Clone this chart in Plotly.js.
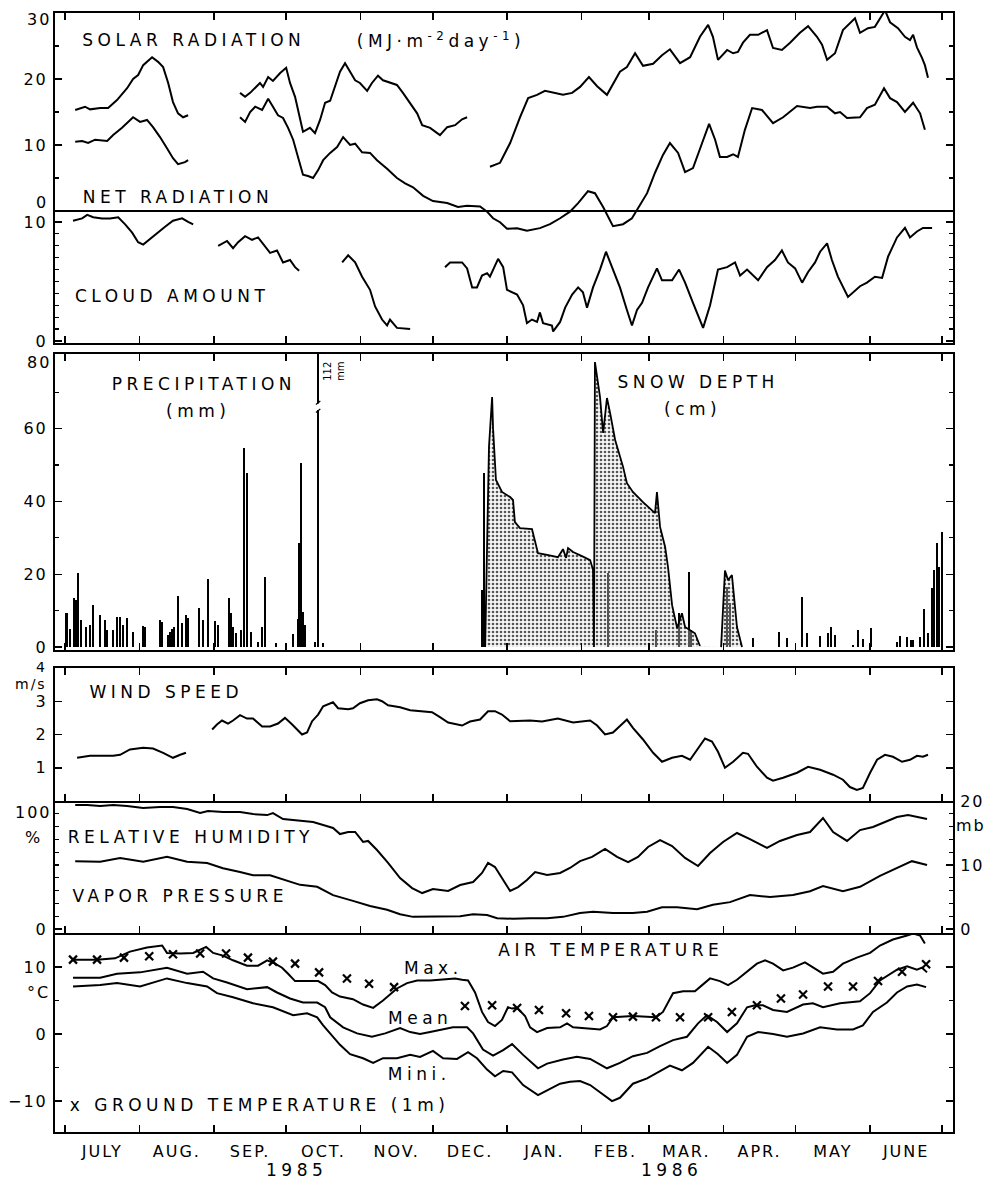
<!DOCTYPE html>
<html><head><meta charset="utf-8">
<script src="https://cdn.plot.ly/plotly-3.0.1.min.js"></script>
<style>
html,body{margin:0;padding:0;background:#fff;}
#chart{width:988px;height:1181px;}
.main-svg g[class*="tick"] text{letter-spacing:2px;}
.main-svg .annotation-text{letter-spacing:4.5px;}
</style></head><body><div id="chart"></div>
<script>
// ---------- DATA (x = days since 1 July 1985) ----------
const monthStarts = [0,31,62,92,123,153,184,215,243,274,304,335,365];
const monthNames = ['JULY','AUG.','SEP.','OCT.','NOV.','DEC.','JAN.','FEB.','MAR.','APR.','MAY','JUNE'];

const solarRadiation = [
[4.2,15.3],[8.3,15.8],[10.4,15.4],[14.6,15.6],[17.9,15.6],[21.6,16.8],[25.8,18.6],[28.3,20],[30.4,20.6],[32.5,22.1],[36.2,23.3],[38.7,22.6],[40.8,21.8],[42.9,19.4],[44.9,16.5],[47.0,14.8],[49.1,14.2],[51.2,14.5],
null,
[72.8,17.9],[74.9,17.3],[77.0,17.9],[79.1,18.6],[81.1,19.4],[82.4,18.8],[84.5,20.3],[86.5,19.7],[89.5,20.9],[92.0,21.7],[93.6,19.4],[95.7,17.3],[97.0,15.3],[99.0,12],[101.9,12.6],[104.0,11.8],[106.1,13.8],[108.2,16.4],[110.3,16.7],[112.3,18.8],[114.4,21.1],[116.5,22.4],[118.6,21.1],[120.7,19.8],[122.7,19.4],[125.7,18.2],[127.7,19.4],[130.2,20.5],[132.3,19.8],[135.2,19.4],[138.1,19.1],[140.6,17.9],[143.6,16.4],[146.5,14.8],[148.6,13],[151.9,12.6],[156.0,11.5],[159.0,12.7],[162.3,13],[165.2,13.9],[167.3,14.2],
null,
[176.8,6.7],[181.0,7.3],[185.2,10.3],[189.3,14.2],[192.7,17.1],[196.4,17.6],[199.7,18.2],[203.1,17.9],[207.2,17.6],[211.0,17.9],[214.3,18.8],[218.0,20.3],[221.4,18.9],[225.5,17.6],[228.9,19.8],[230.9,21.1],[233.8,21.8],[237.2,23.9],[240.5,22],[244.7,22.3],[248.4,23.6],[251.7,24.5],[255.9,22.4],[260.1,23.3],[264.2,26.4],[267.6,28.2],[269.6,26.4],[271.7,22.9],[275.5,24.4],[278.0,23.9],[280.0,24.1],[282.1,25.5],[285.0,26.7],[288.4,26.7],[292.1,27.4],[294.6,24.7],[298.3,24.4],[301.7,25.5],[305.8,27],[309.2,28],[312.9,26.4],[315.0,25.2],[317.1,22.9],[320.4,23.9],[323.7,27.4],[325.8,28.2],[328.7,29.2],[330.8,27],[334.1,27.7],[337.0,27.9],[339.1,29.2],[341.2,30.4],[343.3,28.6],[346.6,27.7],[349.5,26.4],[351.6,25.9],[352.9,26.7],[354.5,24.8],[356.6,23.2],[357.8,22.1],[359.1,20.2]
];

const netRadiation = [
[4.2,10.5],[7.1,10.6],[9.6,10.3],[12.5,10.8],[17.5,10.6],[20.0,11.5],[23.7,12.6],[26.2,13.5],[28.3,14.2],[31.2,13.5],[34.1,13.8],[36.6,12.7],[39.5,11.2],[42.4,9.5],[44.9,8],[47.0,7.1],[49.9,7.4],[51.2,7.7],
null,
[72.8,14.2],[74.9,13.5],[77.0,15],[79.1,15.8],[82.0,15.3],[84.5,17],[86.5,15.8],[88.6,14.5],[90.7,14.1],[92.8,12.6],[94.9,10.8],[97.0,8.2],[99.0,5.5],[101.1,5.3],[103.2,5],[105.3,6.2],[107.4,7.7],[110.3,8.8],[113.2,9.7],[115.7,11.2],[118.6,10],[120.7,10.2],[123.6,8.9],[126.9,8.8],[129.8,7.7],[134.0,6.4],[138.1,5],[141.5,4.2],[144.8,3.6],[149.0,2.3],[153.1,1.5],[159.0,1.2],[163.5,0.6],[167.3,0.8],[172.7,0.7],[175.6,-0.1],[178.1,-1.1],[181.0,-1.7],[183.9,-2.7],[188.1,-2.6],[192.2,-3],[197.6,-2.6],[201.8,-2],[206.0,-1.1],[210.1,-0.1],[213.5,1.2],[217.6,3],[220.5,2.7],[223.9,0.6],[228.0,-2.3],[232.2,-2],[235.9,-1.1],[239.3,0.9],[242.2,2.7],[245.5,5.8],[248.8,8.5],[251.7,10.3],[255.1,8.8],[258.0,5.9],[261.3,6.5],[265.1,10.3],[268.0,13.2],[270.5,10.8],[272.5,8.2],[275.5,8.2],[278.0,8.6],[280.0,8.2],[282.9,12.3],[285.9,15.6],[290.0,15.3],[294.6,13.3],[298.8,14.2],[304.6,15.9],[310.0,15.6],[312.9,15.8],[317.1,15.8],[320.4,14.8],[322.5,15],[325.4,14.1],[330.8,14.2],[333.7,15.6],[337.0,16.1],[340.8,18.6],[343.3,17.1],[346.2,16.5],[349.5,15],[352.9,16.4],[355.8,14.8],[357.8,12.3]
];

const cloudAmount = [
[3.3,10.1],[7.1,10.3],[9.2,10.6],[11.7,10.4],[15.4,10.3],[18.7,10.3],[22.1,10.4],[25.0,9.8],[27.9,9.1],[30.4,8.3],[32.5,8.1],[35.4,8.6],[38.3,9.1],[41.6,9.6],[44.9,10.1],[48.7,10.3],[51.2,10],[53.3,9.8],
null,
[63.7,8],[67.4,8.4],[69.9,7.8],[72.0,8.3],[74.9,8.8],[77.8,8.5],[80.3,8.7],[83.2,7.9],[85.3,7.4],[88.2,7.6],[90.7,6.6],[93.6,6.8],[95.7,6.2],[97.4,5.9],
null,
[115.3,6.6],[117.8,7.2],[120.7,6.6],[123.6,5.4],[126.9,4.3],[129.0,2.9],[131.9,1.8],[134.0,1.3],[135.2,1.8],[138.1,1.1],[143.6,1],
null,
[158.1,6.2],[160.2,6.6],[165.2,6.6],[167.3,6.1],[169.4,4.5],[171.4,4.5],[173.5,5.5],[175.6,5.7],[176.8,5.4],[180.2,6.9],[182.3,6.2],[183.9,4.3],[188.1,3.9],[190.6,3],[192.2,1.5],[194.3,1.8],[196.4,1.6],[197.6,2.4],[198.9,1.5],[202.6,1.3],[203.1,0.8],[206.0,1.6],[208.1,2.8],[211.0,3.9],[213.5,4.5],[215.5,4.1],[217.2,2.8],[219.7,4.5],[222.6,6],[225.1,7.5],[227.6,6.2],[230.9,4.5],[233.8,2.6],[235.9,1.3],[238.0,2.6],[240.1,3.2],[242.6,4.5],[246.3,6.1],[248.4,5.1],[252.6,5.1],[255.5,6],[258.0,4.9],[261.3,3.2],[265.5,1.1],[268.4,3],[271.7,6],[275.5,6.2],[278.8,6.6],[280.9,5.5],[283.8,6],[288.4,5.1],[292.1,6.2],[295.4,6.8],[298.3,7.6],[300.8,6.6],[303.8,6.1],[306.7,4.9],[309.2,5.8],[312.1,6.6],[314.2,7.5],[317.1,8.2],[319.1,6.8],[321.6,5.4],[325.8,3.7],[330.8,4.6],[333.7,4.9],[337.0,5.4],[340.0,5.3],[342.5,7.1],[346.2,8.7],[349.5,9.5],[351.6,8.7],[354.5,9.2],[357.0,9.5],[360.8,9.5]
];

const precipitation = [
[0.5,9.3],[0.8,9.3],[2.1,5],[3.7,13.5],[4.6,13],[5.4,20.3],[6.7,7.4],[8.7,5.5],[10.4,6],[11.7,11.5],[14.6,8.8],[16.6,7.4],[17.5,4.7],[20.0,4.7],[21.6,8.2],[22.9,8.2],[24.1,6],[25.8,8],[28.3,4.1],[32.5,5.8],[33.3,5.5],[39.5,7.4],[40.4,6.9],[42.9,3.3],[43.7,4.1],[44.5,4.9],[45.4,5.5],[47.0,14],[48.7,6.6],[50.3,8.8],[51.2,8],[55.8,10.7],[57.4,7.4],[59.5,18.7],[62.4,7.1],[63.7,6],[68.2,13.5],[69.1,9.3],[69.9,5.5],[71.2,3.8],[73.2,4.7],[74.5,54.7],[75.7,47.8],[77.4,4.1],[80.3,1.4],[82.0,5.5],[83.2,19.2],[87.8,1.1],[94.9,3.6],[97.0,7.7],[97.4,28.6],[98.2,50.5],[99.0,9.6],[99.9,6],[104.0,1.4],[105.3,112],[107.4,1.1],
[173.5,15.7],[174.3,47.8],[225.9,20.3],[245.9,4.7],[255.5,9.3],[259.6,20.6],[260.5,4.7],[275.5,16.5],[276.7,12],[286.3,2.5],[297.1,4.1],[300.4,2.5],[306.7,13.7],[308.7,3.8],[314.2,3],[317.5,3.8],[318.7,5.5],[320.4,3.3],[327.9,0.5],[330.0,4.7],[332.0,2.2],[335.4,5.2],[346.2,1.4],[347.4,3],[350.4,2.7],[352.0,1.9],[352.9,1.9],[355.8,2.7],[357.4,10.4],[359.1,3.8],[360.8,16.2],[361.6,21.2],[362.8,28.6],[363.7,22],[364.9,31.6]
];

const snowDepth = [
[174.8,0],[175.6,27.5],[176.4,55],[177.7,68.7],[178.1,60],[179.3,45.9],[181.8,42.6],[185.2,41.2],[186.4,40.4],[187.2,34.3],[189.3,32.7],[194.3,32.4],[196.8,25.8],[200.6,25.3],[205.1,24.7],[207.2,26.9],[208.5,24.5],[209.3,27.2],[211.4,26.1],[215.1,25],[218.5,23.9],[219.7,21.2],[220.1,0],[220.5,78.3],[222.6,68.7],[223.9,58.8],[225.5,68.4],[226.8,64.3],[228.9,56.9],[232.2,49.5],[233.8,45],[236.3,42.6],[240.5,39.8],[245.5,36.8],[246.3,42.6],[247.6,33],[249.7,27.5],[250.9,22],[252.6,11.5],[254.7,5.2],[256.7,9.3],[258.0,5.5],[260.1,4.7],[262.1,3.8],[264.2,0.3],
null,
[273.0,0],[274.6,21],[275.9,18.4],[277.5,19.8],[279.6,5.5],[281.7,0]
];

const windSpeed = [
[5.0,1.3],[10.4,1.36],[14.6,1.36],[20.0,1.36],[22.9,1.39],[27.0,1.55],[32.5,1.6],[36.6,1.58],[40.8,1.45],[44.9,1.3],[47.9,1.39],[50.3,1.45],
null,
[61.2,2.15],[63.2,2.3],[65.3,2.42],[67.8,2.33],[69.9,2.42],[72.8,2.58],[75.7,2.48],[78.2,2.48],[82.0,2.24],[85.3,2.24],[88.6,2.33],[91.5,2.5],[94.5,2.3],[96.5,2.15],[98.6,2],[100.7,2.06],[102.8,2.4],[105.3,2.6],[107.4,2.85],[111.5,2.97],[113.6,2.79],[117.8,2.76],[119.8,2.79],[122.7,2.94],[126.1,3.03],[129.8,3.06],[131.9,3],[134.4,2.88],[139.4,2.82],[143.6,2.73],[147.7,2.7],[152.7,2.67],[156.0,2.52],[159.4,2.36],[165.2,2.27],[168.5,2.39],[172.7,2.45],[176.0,2.7],[178.9,2.7],[181.8,2.6],[185.2,2.4],[189.3,2.42],[193.5,2.42],[198.5,2.39],[205.1,2.48],[211.4,2.36],[218.5,2.42],[221.4,2.27],[224.7,2],[228.0,2.06],[230.9,2.27],[233.8,2.45],[236.3,2.2],[240.5,1.85],[244.7,1.45],[248.4,1.18],[252.6,1.3],[256.7,1.36],[260.1,1.24],[263.4,1.6],[266.3,1.88],[269.2,1.79],[271.7,1.48],[274.6,1],[278.0,1.18],[282.1,1.45],[284.2,1.42],[287.9,1.03],[292.1,0.7],[294.6,0.61],[298.8,0.7],[304.6,0.85],[309.2,1.03],[314.2,0.94],[319.6,0.79],[323.7,0.64],[326.6,0.42],[329.5,0.33],[332.0,0.39],[335.0,0.85],[337.9,1.24],[341.2,1.39],[344.5,1.33],[348.3,1.18],[351.6,1.24],[354.5,1.36],[357.0,1.33],[359.1,1.39]
];

const relativeHumidity = [
[4.2,96.9],[9.2,96.9],[14.6,96.1],[20.0,96.9],[25.8,96.1],[32.5,94.5],[39.5,95.3],[44.9,95.3],[50.8,93.8],[56.2,90.6],[59.5,92.2],[65.7,91.4],[72.8,91.4],[78.2,89.8],[84.1,89],[86.5,90.6],[90.7,85.9],[97.8,84.4],[103.2,83.6],[107.4,81.3],[111.5,78.9],[114.4,74.2],[117.8,75.8],[120.7,75.8],[124.0,68],[126.1,68.8],[129.8,61.7],[134.4,51.6],[139.4,39.8],[144.4,32],[148.6,28.1],[153.1,31.3],[159.4,29.7],[164.4,34.4],[169.8,36.7],[173.5,43.8],[176.0,51.6],[178.9,48.4],[181.8,39.8],[185.2,29.7],[188.5,32.8],[192.2,38.3],[195.6,44.5],[200.6,42.2],[206.0,43.8],[210.1,47.7],[214.3,53.1],[219.3,56.3],[224.7,62.5],[229.7,56.3],[234.3,52.3],[238.4,56.3],[242.6,64.1],[247.6,69.5],[252.6,64.8],[258.0,55.5],[263.4,49.2],[268.4,59.4],[273.8,68],[279.6,75],[285.0,70.3],[292.1,63.3],[297.5,68.8],[304.6,73.4],[310.0,75.8],[315.4,86.7],[319.6,75.8],[325.4,68.8],[330.8,77.3],[336.2,79.7],[341.2,83.6],[346.2,87.5],[350.8,89],[354.5,87.5],[358.7,85.9]
];

const vaporPressure = [
[4.2,10.6],[14.6,10.5],[22.9,11.1],[32.5,10.5],[42.4,11.3],[50.8,10.5],[59.1,10.3],[65.7,9.5],[72.8,8.9],[78.2,8.4],[85.3,8.4],[91.5,7.7],[97.8,6.9],[104.9,6.6],[111.5,5.3],[119.8,4.4],[126.9,3.6],[134.0,3],[139.4,2.3],[144.8,1.9],[151.9,1.9],[159.0,1.9],[164.4,2],[169.8,2.3],[175.6,2.2],[179.8,1.7],[186.4,1.6],[193.5,1.7],[200.6,1.7],[207.2,1.9],[214.3,2.5],[219.7,2.7],[228.0,2.5],[236.3,2.5],[242.2,2.7],[248.4,3.4],[254.7,3.4],[263.0,3.1],[269.6,3.8],[276.7,4.2],[285.0,5.3],[293.4,5],[302.9,5.3],[310.0,5.9],[315.4,6.7],[323.7,5.9],[330.8,6.6],[339.1,8.3],[346.2,9.5],[352.4,10.6],[358.7,10]
];

const airTempMax = [
[3.3,11.1],[13.3,11.1],[20.8,11.3],[27.0,12.3],[34.1,12.9],[40.4,13.2],[42.4,12.1],[47.9,12],[53.3,12.1],[58.7,13],[61.6,12.1],[65.7,11.7],[69.9,11],[75.7,10.2],[80.3,10.2],[84.1,11],[87.4,10.5],[90.3,9.9],[92.8,9],[95.7,7.9],[100.7,7.9],[105.3,7.9],[108.2,7.3],[111.1,6.2],[114.4,5.6],[119.8,5.2],[124.0,4.4],[128.2,3.9],[132.3,5],[136.1,6.1],[138.1,6.8],[142.3,7.6],[146.5,8],[151.9,8],[156.0,8.1],[162.3,8.3],[165.2,8.1],[167.7,8],[170.6,6.2],[173.5,3.3],[176.0,1.8],[178.9,1.2],[181.8,2.1],[184.3,4],[186.0,3.8],[188.1,3.9],[191.4,2.7],[193.5,1],[196.4,0.3],[200.6,0.9],[206.0,1],[208.9,1.6],[211.4,1],[215.5,0.9],[219.7,0.7],[222.6,0.7],[225.5,1.2],[228.0,2.5],[236.3,2.7],[245.9,2.5],[248.8,3.3],[253.0,6.1],[257.2,6.4],[262.1,6.4],[265.1,7.3],[268.4,8.3],[272.5,7.9],[275.9,7.3],[279.6,8.1],[283.8,9.3],[287.9,10.5],[291.3,11],[294.6,10.5],[298.8,9.5],[302.9,9.9],[307.9,10.7],[311.2,9.9],[315.4,9],[319.6,9.3],[323.7,10.5],[329.5,11.4],[335.0,12.1],[339.1,13.2],[344.5,14.1],[350.4,14.7],[352.9,15.0],[355.8,14.7],[357.8,13.5]
];

const airTempMean = [
[3.3,8.4],[14.6,8.4],[21.6,9],[31.2,9.2],[42.4,9.9],[50.8,9],[57.4,9.3],[61.6,8.3],[67.4,7.7],[75.7,6.7],[84.1,7],[88.2,6.2],[93.6,5.3],[99.0,4.7],[104.9,4.7],[108.2,4],[110.3,2.5],[115.7,1],[121.5,0.1],[127.7,-0.4],[133.2,0.1],[139.4,0.9],[143.6,0.3],[147.7,0],[151.9,0.3],[156.9,0.7],[161.4,1],[167.3,1],[169.8,0.1],[173.9,-2.3],[178.1,-3.2],[182.3,-2.4],[186.0,-1.5],[190.6,-3.1],[196.8,-5.1],[200.6,-4.4],[207.2,-3.8],[213.0,-3.4],[218.5,-3.7],[225.5,-5.1],[230.9,-4.3],[236.3,-3.3],[242.2,-2.8],[247.6,-1.8],[253.0,-0.9],[258.8,-0.4],[263.4,1.6],[267.1,2.8],[271.3,1.8],[275.5,0.3],[279.6,1.6],[283.8,4],[287.1,4.3],[290.4,4.3],[294.6,3.6],[300.4,3.3],[307.1,4.4],[311.2,4.6],[315.4,4],[322.5,4.6],[330.8,4.9],[335.0,6.1],[339.1,8],[346.2,9.6],[350.4,10.1],[354.5,9.6],[356.6,9.9],[358.7,9.2]
];

const airTempMin = [
[3.3,7.1],[14.6,7.3],[21.6,7.6],[31.2,7.1],[42.4,8.3],[50.8,7.6],[59.1,7.1],[63.2,6.1],[69.9,5.5],[78.2,4.6],[86.5,4],[94.9,2.8],[100.7,3.1],[104.9,2.5],[107.4,1.3],[110.3,0.1],[114.4,-1.6],[118.6,-3],[124.0,-3.6],[128.2,-4.3],[132.3,-3.6],[138.1,-3.6],[143.6,-3.1],[147.7,-3.4],[153.1,-2.5],[157.3,-3.6],[163.1,-3.7],[167.7,-2.7],[171.4,-3.6],[175.6,-5.3],[178.9,-6.3],[182.3,-5.5],[186.0,-5.7],[190.6,-7.6],[196.8,-9.1],[200.6,-8.4],[206.0,-7.4],[210.1,-7.1],[214.3,-7],[218.5,-7.6],[222.6,-8.7],[227.6,-10],[230.9,-9.5],[236.3,-7.4],[242.2,-6.6],[244.7,-6.1],[251.7,-4.7],[256.7,-5.4],[261.3,-4.3],[267.6,-1.9],[271.7,-3],[275.5,-4.3],[279.6,-3.1],[283.8,-0.4],[288.4,0.3],[294.6,0],[300.4,-0.4],[307.1,0.1],[314.2,1],[321.2,0.7],[327.9,0.7],[332.0,1.3],[336.2,3.3],[342.0,4.7],[346.2,6.2],[350.4,7.1],[354.5,7.4],[358.3,7]
];

const groundTemp1m = [
[3.3,11.1],[13.3,11.1],[24.5,11.4],[35.0,11.6],[44.9,11.9],[56.2,12],[67.0,12],[76.1,11.4],[86.5,10.8],[95.7,10.5],[105.7,9.2],[117.3,8.3],[126.5,7.5],[136.9,7],[166.4,4.2],[177.7,4.3],[188.1,3.9],[197.2,3.6],[208.5,3.1],[218.0,2.7],[228.0,2.5],[236.3,2.6],[245.9,2.5],[255.9,2.5],[267.6,2.5],[277.5,3.3],[287.9,4.3],[297.9,5.3],[307.1,5.9],[317.5,7.1],[327.9,7.1],[338.3,7.9],[348.3,9.3],[358.3,10.4]
];

// ---------- LAYOUT HELPERS ----------
const W=988,H=1181,ML=55,MR=35,MT=13,MB=49;
const PW=W-ML-MR, PH=H-MT-MB;
const py = p => (H-MB-p)/PH;       // pixel row -> paper y
const px = p => (p-ML)/PW;         // pixel col -> paper x
const xs = a => a.map(p => p ? p[0] : null);
const ys = a => a.map(p => p ? p[1] : null);
const FONT = 'DejaVu Sans, Arial, sans-serif';
const XR = [-4.2, 369.5];
const PRECIP_TOP = 80.5;
const monthMid = monthStarts.slice(0,-1).map((d,i)=>(d+monthStarts[i+1])/2);

const line = (a, xa, ya, w) => ({x: xs(a), y: ys(a), xaxis: xa, yaxis: ya, type:'scatter', mode:'lines',
  line:{color:'#000', width:w||2}, connectgaps:false, showlegend:false, hoverinfo:'skip'});

const traces = [
  line(solarRadiation,'x','y'),
  line(netRadiation,'x','y'),
  line(cloudAmount,'x2','y2'),
  {x: xs(precipitation), y: ys(precipitation), xaxis:'x3', yaxis:'y3', type:'bar', width:0.9,
   marker:{color:'#000', line:{width:0}}, showlegend:false, hoverinfo:'skip'},
  Object.assign(line(snowDepth,'x3','y3',1.8), {fill:'tozeroy', fillcolor:'rgba(0,0,0,0)',
   fillpattern:{shape:'.', fgcolor:'#555', bgcolor:'rgba(230,230,230,0.35)', size:4, solidity:0.35}}),
  line(windSpeed,'x4','y4'),
  line(relativeHumidity,'x5','y5'),
  line(vaporPressure,'x5','y7'),
  line(airTempMax,'x6','y6'),
  line(airTempMean,'x6','y6'),
  line(airTempMin,'x6','y6'),
  {x: xs(groundTemp1m), y: ys(groundTemp1m), xaxis:'x6', yaxis:'y6', type:'scatter', mode:'markers',
   marker:{symbol:'x-thin', size:8, color:'#000', line:{width:2.2, color:'#000'}}, showlegend:false, hoverinfo:'skip'},
  {x:[null], y:[null], xaxis:'x7', yaxis:'y6', type:'scatter', mode:'markers', showlegend:false, hoverinfo:'skip'}
];

const tickfont = {family:FONT, size:16, color:'#000'};
const xBase = (anchor, extra) => Object.assign({range:XR, tickmode:'array', tickvals:monthStarts, ticks:'inside',
  ticklen:7, tickwidth:1.5, tickcolor:'#000', showticklabels:false, showline:true, linewidth:2, linecolor:'#000',
  mirror:'ticks', showgrid:false, zeroline:false, fixedrange:true, anchor:anchor, domain:[0,1]}, extra||{});
const yBase = (dom, range, vals, minor, extra) => Object.assign({domain:dom, range:range, tickmode:'array',
  tickvals:vals, ticks:'inside', ticklen:7, tickwidth:1.5, tickcolor:'#000', showline:true, linewidth:2,
  linecolor:'#000', mirror:'ticks', showgrid:false, zeroline:false, fixedrange:true, tickfont:tickfont,
  ticklabelstandoff:2,
  minor:{tickmode:'array', tickvals:minor, ticks:'inside', ticklen:4, tickwidth:1.2, tickcolor:'#000', showgrid:false}}, extra||{});

const steps = (a,b,s)=>{const r=[];for(let v=a;v<=b+1e-9;v+=s)r.push(+v.toFixed(3));return r;};

const layout = {
  width:W, height:H, margin:{l:ML, r:MR, t:MT, b:MB}, paper_bgcolor:'#fff', plot_bgcolor:'rgba(0,0,0,0)',
  font:{family:FONT, color:'#000'}, bargap:0, barmode:'overlay',
  xaxis: xBase('y'),
  xaxis2: xBase('y2', {showline:false, ticks:'', mirror:false}),
  xaxis3: xBase('y3'),
  xaxis4: xBase('y4'),
  xaxis5: xBase('y5', {mirror:false}),
  xaxis6: xBase('y6', {mirror:false}),
  xaxis7: {range:XR, overlaying:'x6', anchor:'y6', side:'bottom', tickmode:'array', tickvals:monthMid,
    ticktext:monthNames, ticks:'', showline:false, showgrid:false, zeroline:false, tickangle:0,
    tickfont:tickfont, ticklabelstandoff:8, fixedrange:true},
  yaxis: yBase([py(343),1], [-20,30], [0,10,20,30], [5,15,25], {showticklabels:true, tickvals:[10,20], zeroline:true, zerolinecolor:'#000', zerolinewidth:1.6}),
  yaxis2: yBase([py(343),py(211)], [-0.17,10.92], [0,10], steps(1,9,1)),
  yaxis3: yBase([py(650),py(354)], [-0.8,PRECIP_TOP], [0,20,40,60], [10,30,50,70]),
  yaxis4: yBase([py(801),py(668)], [0,4], [1,2,3], []),
  yaxis5: yBase([py(933),py(801)], [-3.1,100], [0], steps(10,90,10), {mirror:false}),
  yaxis7: yBase([py(933),py(801)], [-0.62,20], [0,10,20], steps(2,18,2), {overlaying:'y5', side:'right', anchor:'x5', mirror:false}),
  yaxis6: yBase([0,py(933)], [-14.6,15.07], [-10,0,10], [-5,5]),
  annotations: [],
  shapes: []
};

const ann = (text, x, y, opts) => Object.assign({text:text, xref:'paper', yref:'paper', x:px(x), y:py(y),
  xanchor:'center', yanchor:'middle', showarrow:false, borderpad:0, font:{family:FONT, size:17, color:'#000'}}, opts||{});
const tickAnn = (text, x, y, sz) => ann(text, x, y, {xanchor:'right', font:{family:FONT, size:sz||16, color:'#000'}});
layout.annotations.push(
  ann('SOLAR RADIATION', 194, 40),
  ann('(MJ·m<sup>-2</sup>day<sup>-1</sup>)', 441, 40),
  ann('NET RADIATION', 178, 197),
  ann('CLOUD AMOUNT', 172, 296),
  ann('PRECIPITATION', 204, 384),
  ann('(mm)', 198, 411),
  ann('SNOW DEPTH', 698, 382),
  ann('(cm)', 692, 409),
  ann('WIND SPEED', 166, 692),
  ann('m/s', 31, 684, {font:{family:FONT, size:14, color:'#000'}}),
  ann('RELATIVE HUMIDITY', 191, 837),
  ann('VAPOR PRESSURE', 180, 896),
  ann('%', 33, 837, {font:tickfont}),
  ann('mb', 971, 825, {font:tickfont}),
  ann('AIR TEMPERATURE', 610, 950),
  ann('Max.', 433, 968),
  ann('Mean', 420, 1018),
  ann('Mini.', 419, 1074),
  ann('x GROUND TEMPERATURE (1m)', 259, 1105),
  ann('°C', 38, 992, {font:tickfont}),
  ann('1985', 296, 1170),
  ann('1986', 671, 1170),
  tickAnn('30', 50, 19),
  tickAnn('0', 48, 202),
  tickAnn('80', 50, 363),
  tickAnn('100', 50, 812),
  tickAnn('4', 47, 667, 14)
);
const idx112 = layout.annotations.length;
layout.annotations.push(ann('112<br>mm', 334, 372, {textangle:-90, font:{family:FONT, size:10, color:'#000'}}));
const st = document.createElement('style');
st.textContent = `.annotation[data-index="${idx112}"] .annotation-text{letter-spacing:0px;}` +
  [22,23,24,25,26,9,12,13,19].map(i=>`.annotation[data-index="${i}"] .annotation-text{letter-spacing:2px;}`).join('');
document.head.appendChild(st);

// break mark on the off-scale precipitation bar (drawn at the bar read from the data)
precipitation.filter(p => p && p[1] > PRECIP_TOP).forEach(p => {
  const yb = PRECIP_TOP * 0.82;
  layout.shapes.push({type:'rect', xref:'x3', yref:'y3', x0:p[0]-1.2, x1:p[0]+1.2, y0:yb-0.9, y1:yb+0.9,
    fillcolor:'#fff', line:{width:0}, layer:'above'});
  layout.shapes.push({type:'line', xref:'x3', yref:'y3', x0:p[0]-0.9, x1:p[0]+0.9, y0:yb-1.6, y1:yb-0.6, line:{color:'#000', width:1.2}, layer:'above'});
  layout.shapes.push({type:'line', xref:'x3', yref:'y3', x0:p[0]-0.9, x1:p[0]+0.9, y0:yb+0.6, y1:yb+1.6, line:{color:'#000', width:1.2}, layer:'above'});
});

Plotly.newPlot('chart', traces, layout, {displayModeBar:false, staticPlot:true});
</script></body></html>
